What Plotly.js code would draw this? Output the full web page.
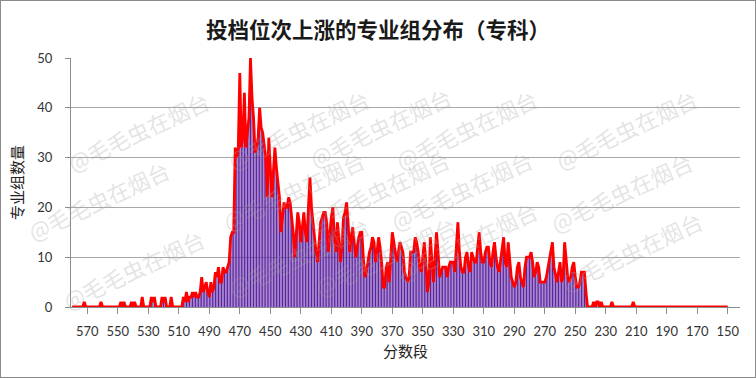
<!DOCTYPE html>
<html>
<head>
<meta charset="utf-8">
<script src="https://cdn.plot.ly/plotly-3.0.1.min.js"></script>
<style>
  html, body { margin: 0; padding: 0; background: #fff; }
  #wrap { position: relative; width: 756px; height: 378px; }
  #chart { width: 756px; height: 378px; }
  #frame { position: absolute; left: 0; top: 0; width: 754px; height: 376px; border: 1px solid #8a8a8a; pointer-events: none; }
</style>
</head>
<body>
<div id="wrap"><div id="chart"></div><div id="frame"></div></div>
<script>
// Highest score of the series; each following value is one point lower
const startScore = 580;
// Number of major groups per score point (580 down to 150)
const groupCounts = [
  0,0,0,0,0,0,0,0,1,0,      // 580-571
  0,0,0,0,0,0,0,0,0,1,      // 570-561
  0,0,0,0,0,0,0,0,0,0,      // 560-551
  0,0,1,0,1,0,0,0,0,1,      // 550-541
  0,1,0,0,0,0,2,0,0,0,      // 540-531
  0,0,2,1,2,0,0,0,0,2,      // 530-521
  1,2,0,0,0,2,0,0,0,0,      // 520-511
  0,0,0,2,1,3,1,2,2,3,      // 510-501
  2,3,2,2,3,6,3,4,5,3,      // 500-491
  2,5,3,4,7,6,8,5,5,8,      // 490-481
  7,7,8,9,14,15,15,32,30,32,// 480-471
  47,32,34,43,32,35,38,50,42,38, // 470-461
  31,32,34,40,36,35,33,30,22,34, // 460-451
  28,22,27,32,28,25,22,15,18,21, // 450-441
  20,20,22,21,18,15,10,14,19,17, // 440-431
  13,16,19,15,13,20,26,20,17,13, // 430-421
  11,9,14,17,18,19,19,17,11,15,  // 420-411
  18,20,14,11,17,14,9,12,18,19,  // 410-401
  21,17,11,14,16,13,10,12,14,15, // 400-391
  15,10,6,7,9,11,12,14,13,9,     // 390-381
  11,14,12,9,4,4,8,9,5,10,       // 380-371
  15,13,11,9,11,13,12,11,7,6,    // 370-361
  5,6,11,11,11,14,13,11,8,7,     // 360-351
  10,13,9,3,5,14,9,5,10,15,      // 350-341
  11,6,7,8,8,8,6,8,9,9,          // 340-331
  9,7,12,17,11,8,7,7,10,11,      // 330-321
  8,7,11,10,9,9,12,15,11,9,      // 320-311
  9,11,12,12,9,8,11,13,10,8,     // 310-301
  7,9,12,14,9,8,13,10,6,5,       // 300-291
  4,5,8,9,6,5,4,8,10,10,         // 290-281
  10,11,9,6,7,9,8,5,5,5,         // 280-271
  5,6,8,10,11,13,8,6,5,7,        // 270-261
  9,5,6,13,9,6,5,6,8,9,          // 260-251
  6,4,4,5,7,7,7,3,0,0,           // 250-241
  0,0,1,0,1,1,0,1,0,0,           // 240-231
  0,0,0,0,1,0,0,0,0,0,           // 230-221
  0,0,0,0,0,0,0,0,1,0,           // 220-211
  0,0,0,0,0,0,0,0,0,0,           // 210-201
  0,0,0,0,0,0,0,0,0,0,           // 200-191
  0,0,0,0,0,0,0,0,0,0,           // 190-181
  0,0,0,0,0,0,0,0,0,0,           // 180-171
  0,0,0,0,0,0,0,0,0,0,           // 170-161
  0,0,0,0,0,0,0,0,0,0,           // 160-151
  0                              // 150
];
const scores = groupCounts.map((v, i) => startScore - i);
const xTickVals = [570,550,530,510,490,470,450,430,410,390,370,350,330,310,290,270,250,230,210,190,170,150];
const yTickVals = [0,10,20,30,40,50];

const titleText = '投档位次上涨的专业组分布（专科）';
const xTitle = '分数段';
const yTitle = '专业组数量';
const watermark = '@毛毛虫在烟台';

const traces = [
  { type: 'bar', x: scores, y: groupCounts, marker: { color: '#5b23a0', line: { width: 0 } },
    hoverinfo: 'x+y', showlegend: false },
  { type: 'scatter', mode: 'lines', x: scores, y: groupCounts,
    line: { color: '#ff0000', width: 2.8 }, showlegend: false }
];

// watermark grid (pixel positions converted to paper positions)
const wmPos = [
  [60,82],[220,80],[380,78],[545,80],[705,80],
  [20,200],[215,190],[378,190],[540,190],[700,192],
  [55,318],[220,305],[385,305],[545,290],[710,300]
];
const annotations = wmPos.map(p => ({
  text: watermark, xref: 'paper', yref: 'paper',
  x: (p[0] - 71) / (740 - 71), y: (306.7 - p[1]) / (306.7 - 58.3),
  showarrow: false, textangle: -25,
  font: { family: 'Noto Sans CJK SC', size: 22, color: 'rgba(160,160,160,0.3)' }
}));

const layout = {
  width: 756, height: 378,
  margin: { l: 71, r: 16, t: 58.3, b: 71.3 },
  paper_bgcolor: '#ffffff', plot_bgcolor: '#ffffff',
  bargap: 0.25,
  title: { text: titleText, x: 0.5, xanchor: 'center', y: 0.92, yanchor: 'middle',
           font: { family: 'Noto Sans CJK SC', size: 21.5, color: '#1a1a1a', weight: 'bold' } },
  xaxis: {
    range: [580.7, 142], tickmode: 'array', tickvals: xTickVals,
    ticks: 'outside', ticklen: 6, tickcolor: '#8c8c8c', tickwidth: 1,
    showline: true, linecolor: '#8c8c8c', linewidth: 1,
    showgrid: false, zeroline: false, ticklabelstandoff: 6,
    tickfont: { family: 'Lato', size: 13, color: '#333' },
    title: { text: xTitle, standoff: 8, font: { family: 'Noto Sans CJK SC', size: 15, color: '#222' } }
  },
  yaxis: {
    range: [0, 50], tickmode: 'array', tickvals: yTickVals,
    ticks: 'outside', ticklen: 5, tickcolor: '#8c8c8c',
    showline: true, linecolor: '#8c8c8c', linewidth: 1,
    showgrid: true, gridcolor: '#a8a8a8', gridwidth: 1, zeroline: false,
    ticklabelstandoff: 10,
    tickfont: { family: 'Lato', size: 13, color: '#333' },
    title: { text: yTitle, standoff: 10, font: { family: 'Noto Sans CJK SC', size: 15, color: '#222' } }
  },
  annotations: annotations
};

Plotly.newPlot('chart', traces, layout, { displayModeBar: false, staticPlot: true });
</script>
</body>
</html>
